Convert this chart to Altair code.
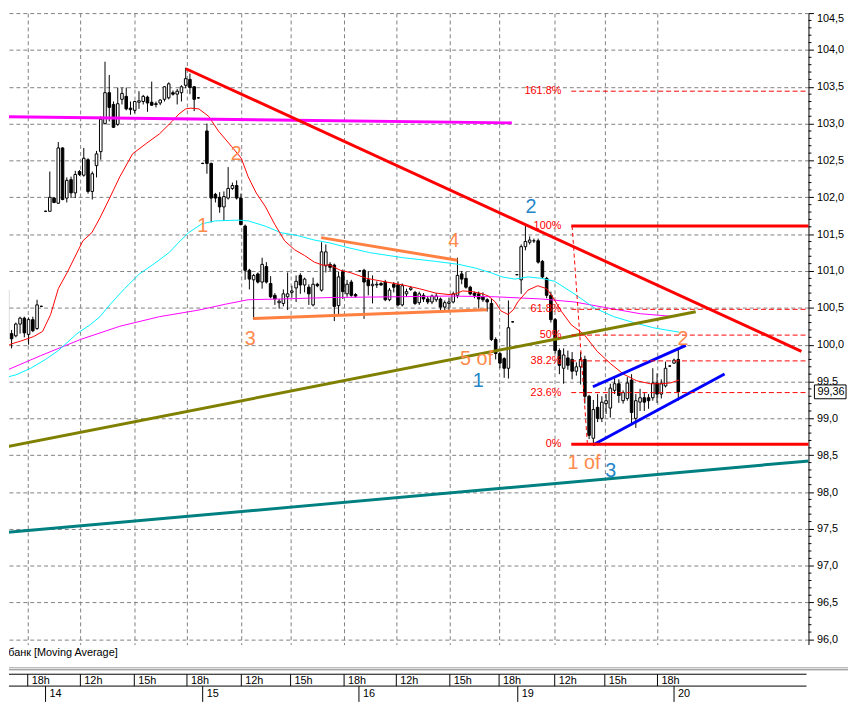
import altair as alt
import pandas as pd

FONT = "Liberation Sans"

# ---------------- data ----------------
# 15-minute candles; bar index 0 = first visible bar (evening of the 13th)
bar_open = [
    # 13th (tail)
    100.02, 100.74, 100.15, 100.12, 100.28, 100.36, 100.14, 100.34, 100.22, 100.52,
    # 14th
    101.81, 101.81, 101.99, 101.92, 102.67, 101.99, 102.24, 102.06, 102.35, 102.30,
    102.51, 102.08, 102.43, 102.62, 103.00, 103.42, 103.26, 102.99, 103.33, 103.37,
    103.21, 103.18, 103.29, 103.30, 103.36, 103.29, 103.27, 103.28, 103.33, 103.35,
    103.42, 103.40, 103.42, 103.52, 103.60, 103.50, 103.35,
    # 15th
    102.46, 102.90, 102.46, 102.04, 102.00, 101.87, 101.99, 102.12, 102.16, 101.99,
    101.61, 101.01, 100.88, 100.96, 100.85, 101.06, 100.83, 100.67, 100.57, 100.56,
    100.65, 100.71, 100.77, 100.94, 100.81, 100.78, 100.54, 100.82, 100.74, 101.07,
    101.09, 101.08, 100.53, 100.99, 100.69, 100.85, 100.68,
    # 16th
    101.00, 101.01, 100.88, 100.80, 100.81, 100.83, 100.85, 100.61, 100.82, 100.81,
    100.54, 100.69, 100.75, 100.71, 100.57, 100.67, 100.62, 100.58, 100.61, 100.62,
    100.51, 100.56, 100.58, 100.67, 100.96, 100.90, 100.78, 100.70, 100.69, 100.65,
    100.61, 100.56, 100.07, 99.88, 99.81, 99.68, 100.31,
    # 19th
    100.95, 100.88, 101.33, 101.39, 101.41, 101.41, 101.13, 100.90, 100.67, 100.34,
    99.92, 99.68, 99.82, 99.80, 99.64, 99.70, 99.80, 99.30, 98.73, 99.15,
    99.00, 99.20, 99.14, 99.38, 99.47, 99.24, 99.27, 99.52, 99.00, 99.22,
    99.28, 99.28, 99.28, 99.48, 99.33, 99.44, 99.71,
    # 20th
    99.75, 99.80,
]
bar_high = [
    100.85, 100.86, 100.20, 100.30, 100.38, 100.38, 100.37, 100.38, 100.61, 100.53,
    101.82, 102.35, 102.00, 102.75, 102.68, 102.27, 102.28, 102.36, 102.37, 102.67,
    102.53, 102.35, 102.63, 103.10, 103.84, 103.66, 103.30, 103.49, 103.49, 103.49,
    103.30, 103.31, 103.44, 103.39, 103.38, 103.57, 103.30, 103.33, 103.51, 103.56,
    103.45, 103.47, 103.52, 103.76, 103.68, 103.51, 103.36,
    102.47, 103.00, 102.47, 102.06, 102.07, 102.08, 102.41, 102.20, 102.23, 102.05,
    101.63, 101.03, 100.96, 100.98, 101.18, 101.12, 100.93, 100.70, 100.62, 100.75,
    100.98, 100.80, 100.94, 100.97, 100.91, 100.82, 100.91, 100.84, 101.39, 101.36,
    101.12, 101.10, 100.99, 101.02, 100.88, 100.88, 100.70,
    101.01, 101.03, 101.00, 100.94, 100.86, 100.85, 100.88, 100.77, 100.85, 100.86,
    100.83, 100.76, 100.79, 100.73, 100.72, 100.70, 100.66, 100.68, 100.70, 100.64,
    100.60, 100.64, 100.72, 101.18, 101.00, 100.99, 100.80, 100.72, 100.72, 100.71,
    100.63, 100.62, 100.10, 99.90, 99.83, 100.60, 100.32,
    100.96, 101.36, 101.61, 101.47, 101.44, 101.44, 101.15, 100.92, 100.72, 100.36,
    99.95, 99.95, 99.92, 99.90, 99.76, 99.90, 99.85, 99.32, 99.25, 99.33,
    99.30, 99.33, 99.47, 99.55, 99.53, 99.38, 99.56, 99.60, 99.33, 99.40,
    99.35, 99.33, 99.68, 99.61, 99.53, 99.77, 99.72,
    99.81, 99.94,
]
bar_low = [
    100.00, 100.12, 99.95, 100.10, 100.15, 100.10, 100.00, 100.17, 100.20, 100.51,
    101.80, 101.81, 101.92, 101.91, 101.96, 101.93, 101.99, 101.99, 102.29, 102.28,
    102.05, 101.97, 102.27, 102.51, 102.99, 103.03, 102.94, 102.97, 103.26, 103.18,
    103.12, 103.14, 103.20, 103.26, 103.16, 103.24, 103.22, 103.25, 103.30, 103.33,
    103.38, 103.26, 103.30, 103.48, 103.40, 103.17, 103.34,
    102.45, 102.32, 101.66, 101.93, 101.79, 101.68, 101.97, 102.10, 101.97, 101.62,
    100.88, 100.75, 100.34, 100.83, 100.76, 100.83, 100.63, 100.54, 100.49, 100.52,
    100.47, 100.64, 100.58, 100.69, 100.71, 100.54, 100.52, 100.78, 100.72, 100.98,
    101.00, 100.32, 100.41, 100.62, 100.65, 100.65, 100.64,
    100.99, 100.35, 100.67, 100.56, 100.77, 100.80, 100.59, 100.59, 100.71, 100.52,
    100.52, 100.65, 100.73, 100.54, 100.54, 100.58, 100.55, 100.55, 100.58, 100.45,
    100.45, 100.44, 100.56, 100.63, 100.82, 100.76, 100.67, 100.63, 100.49, 100.58,
    100.45, 100.05, 99.80, 99.68, 99.55, 99.54, 100.30,
    100.94, 100.69, 101.28, 101.36, 101.38, 101.10, 100.90, 100.63, 100.30, 99.88,
    99.60, 99.47, 99.66, 99.53, 99.58, 99.46, 99.20, 98.72, 98.66, 98.95,
    98.95, 99.06, 99.01, 99.33, 99.21, 99.20, 99.24, 98.93, 98.87, 99.10,
    99.10, 99.13, 99.24, 99.21, 99.27, 99.42, 99.70,
    99.74, 99.24,
]
bar_close = [
    100.81, 100.14, 100.08, 100.28, 100.36, 100.16, 100.34, 100.19, 100.54, 100.52,
    101.81, 102.00, 101.93, 102.67, 101.97, 102.23, 102.06, 102.31, 102.31, 102.53,
    102.08, 102.32, 102.59, 103.06, 103.42, 103.22, 102.95, 103.27, 103.41, 103.20,
    103.19, 103.30, 103.31, 103.37, 103.28, 103.25, 103.26, 103.32, 103.50, 103.54,
    103.40, 103.44, 103.50, 103.61, 103.49, 103.33, 103.35,
    102.46, 102.46, 101.99, 101.99, 101.87, 102.01, 102.12, 102.16, 101.99, 101.63,
    101.01, 100.89, 100.94, 100.85, 101.09, 100.85, 100.65, 100.62, 100.59, 100.69,
    100.69, 100.73, 100.86, 100.81, 100.89, 100.69, 100.82, 100.80, 101.26, 101.26,
    101.05, 100.52, 100.92, 100.72, 100.82, 100.67, 100.66,
    101.00, 100.85, 100.80, 100.82, 100.82, 100.81, 100.61, 100.74, 100.78, 100.54,
    100.80, 100.72, 100.77, 100.56, 100.69, 100.62, 100.58, 100.66, 100.66, 100.51,
    100.57, 100.58, 100.69, 100.94, 100.89, 100.78, 100.69, 100.67, 100.62, 100.61,
    100.58, 100.07, 99.88, 99.75, 99.68, 100.23, 100.31,
    100.95, 101.33, 101.40, 101.42, 101.41, 101.12, 100.92, 100.67, 100.34, 99.92,
    99.72, 99.86, 99.72, 99.64, 99.70, 99.80, 99.30, 98.77, 99.12, 99.00,
    99.22, 99.24, 99.41, 99.47, 99.31, 99.35, 99.48, 99.08, 99.24, 99.28,
    99.22, 99.24, 99.48, 99.33, 99.47, 99.68, 99.71,
    99.79, 99.36,
]

# moving averages: bar position, value
ma_fast_bar = [0.0, 1.9, 4.2, 7.2, 9.3, 11.2, 13.0, 15.1, 18.8, 20.9, 22.8, 25.1, 27.5, 30.5,
               33.7, 36.8, 39.8, 41.4, 43.0, 44.2, 46.1, 48.4, 50.7, 53.8, 56.1, 57.7, 59.6,
               61.7, 64.0, 66.3, 68.6, 71.0, 73.3, 75.2, 77.0, 79.4, 81.7, 85.6, 90.3, 94.2,
               98.0, 101.9, 105.0, 106.6, 108.2, 110.5, 112.9, 114.3, 115.9, 117.2, 118.9,
               120.1, 121.2, 123.6, 125.9, 128.0, 129.4, 131.5, 133.8, 136.8, 139.9, 143.1,
               146.1, 149.2, 152.4, 154.8, 157.1, 159.2]
ma_fast_val = [99.95, 100.01, 100.05, 100.11, 100.18, 100.41, 100.76, 100.98, 101.41, 101.52,
               101.72, 101.99, 102.28, 102.59, 102.73, 102.86, 103.03, 103.13, 103.20, 103.21,
               103.20, 103.10, 102.90, 102.69, 102.53, 102.28, 102.06, 101.88, 101.63, 101.41,
               101.29, 101.21, 101.12, 101.08, 101.08, 101.01, 100.98, 100.90, 100.85, 100.81,
               100.76, 100.70, 100.68, 100.69, 100.73, 100.72, 100.69, 100.66, 100.58, 100.46,
               100.41, 100.47, 100.58, 100.74, 100.80, 100.76, 100.65, 100.45, 100.27, 100.14,
               99.91, 99.74, 99.60, 99.51, 99.47, 99.47, 99.48, 99.52]
ma_mid_bar = [-0.5, 3.0, 6.5, 10.0, 13.0, 17.4, 20.5, 22.8, 25.1, 28.6, 32.1, 35.6, 39.1, 41.4,
              43.7, 46.8, 50.0, 55.4, 57.7, 61.7, 65.4, 69.4, 73.3, 77.0, 81.0, 86.3, 94.2,
              101.9, 107.3, 111.2, 115.2, 117.5, 120.5, 123.6, 126.8, 129.9, 134.5, 139.2,
              143.8, 148.5, 153.1, 159.2]
ma_mid_val = [99.54, 99.59, 99.68, 99.80, 99.92, 100.15, 100.27, 100.38, 100.54, 100.76,
              100.96, 101.10, 101.25, 101.39, 101.52, 101.64, 101.68, 101.69, 101.68, 101.61,
              101.52, 101.48, 101.42, 101.38, 101.32, 101.25, 101.18, 101.13, 101.09, 101.04,
              100.97, 100.92, 100.89, 100.92, 100.90, 100.86, 100.69, 100.50, 100.38, 100.30,
              100.23, 100.17]
ma_slow_bar = [-0.5, 8.8, 18.2, 27.5, 36.8, 46.1, 52.4, 57.7, 65.4, 77.0, 92.6, 105.0, 115.9,
               126.8, 134.5, 142.2, 150.1, 158.5]
ma_slow_val = [99.62, 99.85, 100.07, 100.25, 100.38, 100.47, 100.55, 100.61, 100.62, 100.64,
               100.65, 100.66, 100.65, 100.62, 100.58, 100.50, 100.42, 100.38]

# drawn trend lines: start bar, start price, end bar, end price
trend_names = ["resistance", "downtrend", "support_olive", "support_teal",
               "triangle_top", "triangle_bottom", "channel_top", "channel_bottom"]
trend_bar0 = [-0.5, 43.05, -0.5, -0.5, 74.9, 58.9, 138.9, 138.9]
trend_val0 = [103.095, 103.745, 98.598, 97.445, 101.453, 100.354, 99.429, 98.638]
trend_bar1 = [119.8, 188.0, 163.1, 190.0, 107.0, 114.0, 160.8, 169.9]
trend_val1 = [103.010, 99.910, 100.448, 98.424, 101.145, 100.475, 99.992, 99.603]

# Fibonacci retracement
fib_labels = ["161.8%", "100%", "61.8%", "50%", "38.2%", "23.6%", "0%"]
fib_levels = [103.44, 101.61, 100.48, 100.13, 99.78, 99.35, 98.65]
fib_solid = [False, True, False, False, False, True and False, True]
fib_start_bar = 133.8
fib_end_bar = 190.0
fib_diag_bar = [134.0, 137.6]
fib_diag_val = [101.61, 98.65]

# wave counts
wave_text = ["1", "2", "3", "4", "5 of", "1 of", "2"]
wave_bar = [47.0, 54.9, 58.2, 106.1, 111.5, 136.8, 160.1]
wave_val = [101.61, 102.59, 100.07, 101.41, 99.80, 98.40, 100.07]
subwave_text = ["1", "2", "3"]
subwave_bar = [111.9, 124.3, 143.1]
subwave_val = [99.51, 101.87, 98.28]

last_price = 99.36
last_label = "99,36"

# time axis (bar positions of hour marks and session starts)
hour_tick_bar = [5.8, 18.2, 30.9, 43.3, 56.1, 67.7, 80.3, 92.6, 105.2, 116.8, 129.9, 141.7, 154.1]
hour_tick_label = ["18h", "12h", "15h", "18h", "12h", "15h", "18h", "12h", "15h", "18h", "12h", "15h", "18h"]
day_tick_bar = [10.0, 47.0, 83.8, 121.2, 158.0]
day_tick_label = ["14", "15", "16", "19", "20"]

legend_text = "Сбербанк [Moving Average]"

y_major = [96.0 + 0.5 * k for k in range(18)]
y_minor = [round(96.0 + 0.1 * k, 1) for k in range(86) if k % 5 != 0]

# ---------------- chart ----------------
PLOT_W, PLOT_H = 809, 639
X_LO, X_HI = 1.389, 189.66
Y_LO, Y_HI = 95.93, 104.5
STRIP_W, STRIP_H = 849, 58

xscale = alt.Scale(domain=[X_LO, X_HI], nice=False, zero=False, padding=0)
yscale = alt.Scale(domain=[Y_LO, Y_HI], nice=False, zero=False, padding=0)

x_axis = alt.Axis(values=hour_tick_bar, labels=False, ticks=False, domain=False, grid=True,
                  gridColor="#808080", gridDash=[4, 3], gridWidth=1, title=None)
y_axis = alt.Axis(orient="right", values=y_major,
                  labelExpr="replace(format(datum.value, '.1f'), '.', ',')",
                  grid=True, gridColor="#808080", gridDash=[4, 3], gridWidth=1,
                  tickColor="black", tickSize=5, tickWidth=1,
                  domainColor="black", domainWidth=1,
                  labelColor="black", labelFont=FONT, labelFontSize=11, labelPadding=3,
                  labelFlush=True, labelOverlap=False, title=None)


def X(f):
    return alt.X(f, type="quantitative", scale=xscale, axis=x_axis)


def Y(f):
    return alt.Y(f, type="quantitative", scale=yscale, axis=y_axis)


candles = pd.DataFrame({"i": list(range(len(bar_open))), "o": bar_open, "h": bar_high,
                        "l": bar_low, "c": bar_close})

wicks = alt.Chart(candles).mark_rule(color="black", strokeWidth=1, clip=True).encode(
    x=X("i"), y=Y("l"), y2="h")
bodies = alt.Chart(candles).mark_bar(width=2.6, stroke="black", strokeWidth=1, clip=True).encode(
    x=X("i"), y=Y("o"), y2="c",
    fill=alt.condition("datum.c >= datum.o", alt.value("white"), alt.value("black")))


def curve(bars, vals, color, width, dash=None):
    df = pd.DataFrame({"i": bars, "p": vals})
    kw = dict(color=color, strokeWidth=width, clip=True)
    if dash:
        kw["strokeDash"] = dash
    return alt.Chart(df).mark_line(**kw).encode(x=X("i"), y=Y("p"))


layers = [wicks, bodies,
          curve(ma_slow_bar, ma_slow_val, "#FF00FF", 1),
          curve(ma_mid_bar, ma_mid_val, "#00F0FF", 1),
          curve(ma_fast_bar, ma_fast_val, "#FF0000", 1)]

trend_colors = {"resistance": "#FF00FF", "downtrend": "#FF0000", "support_olive": "#808000",
                "support_teal": "#008080", "triangle_top": "#FF8040", "triangle_bottom": "#FF8040",
                "channel_top": "#0000FF", "channel_bottom": "#0000FF"}
for n, b0, v0, b1, v1 in zip(trend_names, trend_bar0, trend_val0, trend_bar1, trend_val1):
    layers.append(curve([b0, b1], [v0, v1], trend_colors[n], 3))

fib = pd.DataFrame({"label": fib_labels, "level": fib_levels,
                    "i0": [fib_start_bar] * len(fib_levels), "i1": [fib_end_bar] * len(fib_levels)})
fib_main = fib[fib["label"].isin(["100%", "0%"])]
fib_dash = fib[~fib["label"].isin(["100%", "0%"])]
layers.append(alt.Chart(fib_dash).mark_rule(color="#FF0000", strokeWidth=1, strokeDash=[5, 3], clip=True)
              .encode(x=X("i0"), x2="i1", y=Y("level")))
layers.append(alt.Chart(fib_main).mark_rule(color="#FF0000", strokeWidth=3, clip=True)
              .encode(x=X("i0"), x2="i1", y=Y("level")))
layers.append(curve(fib_diag_bar, fib_diag_val, "#FF0000", 1, dash=[4, 3]))
layers.append(alt.Chart(fib).mark_text(color="#FF0000", font=FONT, fontSize=11, align="right",
                                       baseline="middle", dx=-10)
              .encode(x=X("i0"), y=Y("level"), text="label"))

waves = pd.DataFrame({"t": wave_text, "i": wave_bar, "p": wave_val})
subwaves = pd.DataFrame({"t": subwave_text, "i": subwave_bar, "p": subwave_val})
layers.append(alt.Chart(waves).mark_text(color="#FF8A4C", font=FONT, fontSize=20, align="center",
                                         baseline="middle").encode(x=X("i"), y=Y("p"), text="t"))
layers.append(alt.Chart(subwaves).mark_text(color="#2286C8", font=FONT, fontSize=20, align="center",
                                            baseline="middle").encode(x=X("i"), y=Y("p"), text="t"))

minor = pd.DataFrame({"v": y_minor})
layers.append(alt.Chart(minor).mark_rule(color="black", strokeWidth=1).encode(
    y=Y("v"), x=alt.value(PLOT_W), x2=alt.value(PLOT_W + 3)))

lastdf = pd.DataFrame({"p": [last_price], "t": [last_label]})
box_path = "M-1,-0.4375L1,-0.4375L1,0.4375L-1,0.4375Z"
layers.append(alt.Chart(lastdf).mark_point(shape=box_path, size=1024, filled=True, fill="white",
                                           stroke="black", strokeWidth=1, opacity=1)
              .encode(x=alt.value(PLOT_W + 22), y=Y("p")))
layers.append(alt.Chart(lastdf).mark_text(align="left", baseline="middle", font=FONT, fontSize=11,
                                          color="black")
              .encode(x=alt.value(PLOT_W + 9), y=Y("p"), text="t"))

top = alt.layer(*layers).properties(width=PLOT_W, height=PLOT_H)

# ---- time-axis strip ----
bscale = alt.Scale(domain=[X_LO, X_LO + STRIP_W * (X_HI - X_LO) / PLOT_W], nice=False, zero=False, padding=0)


def BX(f):
    return alt.X(f, type="quantitative", scale=bscale, axis=None)


one = pd.DataFrame({"t": [legend_text]})
hours = pd.DataFrame({"b": hour_tick_bar, "lbl": hour_tick_label})
days = pd.DataFrame({"b": day_tick_bar, "lbl": day_tick_label})

strip = [
    alt.Chart(one).mark_text(align="right", baseline="middle", font=FONT, fontSize=11, color="black",
                             clip=True).encode(x=alt.value(110), y=alt.value(8.5), text="t"),
    alt.Chart(one).mark_rule(color="#A0A0A0", strokeWidth=1).encode(
        x=alt.value(0), x2=alt.value(STRIP_W), y=alt.value(23.5)),
    alt.Chart(one).mark_rule(color="#808080", strokeWidth=1).encode(
        x=alt.value(0), x2=alt.value(STRIP_W), y=alt.value(25.5)),
    alt.Chart(one).mark_rule(color="black", strokeWidth=1).encode(
        x=alt.value(0), x2=alt.value(PLOT_W - 2), y=alt.value(30)),
    alt.Chart(one).mark_rule(color="black", strokeWidth=1).encode(
        x=alt.value(0), x2=alt.value(PLOT_W - 2), y=alt.value(42)),
    alt.Chart(hours).mark_rule(color="black", strokeWidth=1).encode(
        x=BX("b"), y=alt.value(30), y2=alt.value(42)),
    alt.Chart(days).mark_rule(color="black", strokeWidth=1).encode(
        x=BX("b"), y=alt.value(42), y2=alt.value(STRIP_H)),
    alt.Chart(hours).mark_text(align="left", baseline="middle", dx=4, font=FONT, fontSize=11,
                               color="black").encode(x=BX("b"), y=alt.value(36.5), text="lbl"),
    alt.Chart(days).mark_text(align="left", baseline="middle", dx=4, font=FONT, fontSize=11,
                              color="black").encode(x=BX("b"), y=alt.value(50.5), text="lbl"),
]
bottom = alt.layer(*strip).properties(width=STRIP_W, height=STRIP_H)

chart = alt.vconcat(top, bottom, spacing=0, bounds="flush").properties(
    padding=0, background="white").configure_view(stroke=None)

chart.save("out.html", embed_options={"renderer": "svg", "actions": False})
